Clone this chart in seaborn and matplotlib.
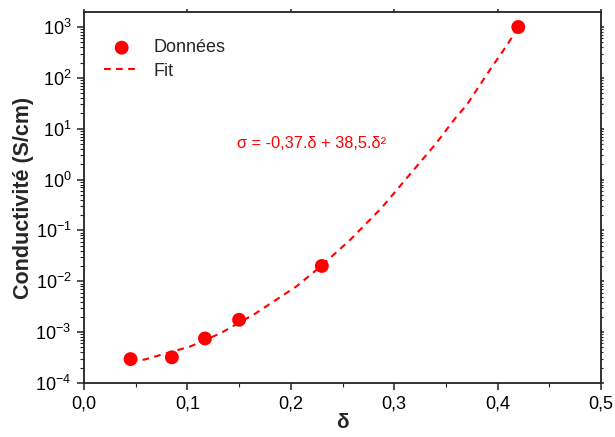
import matplotlib
matplotlib.use("Agg")
import matplotlib.pyplot as plt
import matplotlib.ticker as mticker
import seaborn as sns
import pandas as pd

# Data points
delta = [0.045, 0.085, 0.117, 0.150, 0.230, 0.420]
sigma = [2.95e-4, 3.2e-4, 7.5e-4, 1.75e-3, 2.0e-2, 1.0e3]

# Fit curve
fit_delta = [0.045, 0.059, 0.077, 0.1025, 0.1315, 0.1654, 0.2057, 0.23, 0.2573,
             0.288, 0.317, 0.34, 0.36, 0.37, 0.39, 0.41, 0.42]
fit_sigma = [2.7e-4, 2.9e-4, 3.7e-4, 5.2e-4, 9.4e-4, 2.3e-3, 8.0e-3, 2.05e-2, 6.5e-2,
             0.28, 1.4, 5.0, 17, 29, 120, 470, 1000]

# Tick values
y_ticks = [1e-4, 1e-3, 1e-2, 1e-1, 1e0, 1e1, 1e2, 1e3]
y_tick_labels = [r"$10^{-4}$", r"$10^{-3}$", r"$10^{-2}$", r"$10^{-1}$",
                 r"$10^{0}$", r"$10^{1}$", r"$10^{2}$", r"$10^{3}$"]
x_ticks = [0.0, 0.1, 0.2, 0.3, 0.4, 0.5]
x_tick_labels = ["0,0", "0,1", "0,2", "0,3", "0,4", "0,5"]

equation = "σ = -0,37.δ + 38,5.δ²"
xlabel = "δ"
ylabel = "Conductivité (S/cm)"

sns.set_theme(style="ticks")
plt.rcParams['font.family'] = ['Liberation Sans', 'DejaVu Sans']
plt.rcParams['mathtext.fontset'] = 'custom'
plt.rcParams['mathtext.rm'] = 'Liberation Sans'
plt.rcParams['mathtext.it'] = 'Liberation Sans:italic'
plt.rcParams['mathtext.bf'] = 'Liberation Sans:bold'

fig = plt.figure(figsize=(6.15, 4.37), dpi=100)
ax = fig.add_axes([84/615, 1-383/437, (601-84)/615, (383-12)/437])

df_pts = pd.DataFrame({"delta": delta, "sigma": sigma})
df_fit = pd.DataFrame({"delta": fit_delta, "sigma": fit_sigma})

sns.lineplot(data=df_fit, x="delta", y="sigma", ax=ax, color="red",
             linestyle=(0, (3.2, 2.6)), linewidth=1.5, label="Fit", zorder=2)
sns.scatterplot(data=df_pts, x="delta", y="sigma", ax=ax, color="red",
                s=100, edgecolor="none", label="Données", zorder=3)

ax.set_yscale("log")
ax.set_xlim(0, 0.5)
ax.set_ylim(1e-4, 10**3.295)

ax.set_xticks(x_ticks)
ax.set_xticklabels(x_tick_labels)
ax.xaxis.set_minor_locator(mticker.FixedLocator([0.05, 0.15, 0.25, 0.35, 0.45]))
ax.set_yticks(y_ticks)
ax.set_yticklabels(y_tick_labels)
minor_y = [m * 10.0**e for e in range(-4, 4) for m in range(2, 10) if m * 10.0**e < 10**3.295]
ax.yaxis.set_minor_locator(mticker.FixedLocator(minor_y))
ax.yaxis.set_minor_formatter(mticker.NullFormatter())
ax.xaxis.set_minor_formatter(mticker.NullFormatter())

for s in ax.spines.values():
    s.set_visible(True)
    s.set_linewidth(1.3)
    s.set_color("#222222")

ax.tick_params(axis="both", which="major", direction="out", length=5, width=1.1,
               labelsize=13, colors="#222222", labelcolor="black", pad=4)
ax.tick_params(axis="both", which="minor", direction="out", length=3, width=0.8, colors="#222222")
ax.tick_params(top=True, right=True, which="both")
ax.xaxis.set_tick_params(which="both", labeltop=False)
ax.yaxis.set_tick_params(which="both", labelright=False)
# smaller ticks on top/right
for t in ax.xaxis.get_major_ticks():
    t.tick2line.set_markersize(2)
for t in ax.xaxis.get_minor_ticks():
    t.tick2line.set_markersize(0)
for t in ax.yaxis.get_major_ticks():
    t.tick2line.set_markersize(2)
for t in ax.yaxis.get_minor_ticks():
    t.tick2line.set_markersize(1.5)

ax.set_xlabel(xlabel, fontsize=15, fontweight="bold", labelpad=0)
ax.set_ylabel(ylabel, fontsize=15.5, fontweight="bold", labelpad=1)

ax.text(0.2205, 5.2, equation, color="red", fontsize=11.8, ha="center", va="center")

handles, labels = ax.get_legend_handles_labels()
order = [labels.index("Données"), labels.index("Fit")]
leg = ax.legend([handles[i] for i in order], [labels[i] for i in order],
                loc="upper left", frameon=False, fontsize=13,
                bbox_to_anchor=(0.01, 0.965), handlelength=2.0, handletextpad=0.75,
                labelspacing=0.35, borderaxespad=0.4)

fig.savefig("out.png", dpi=100)
